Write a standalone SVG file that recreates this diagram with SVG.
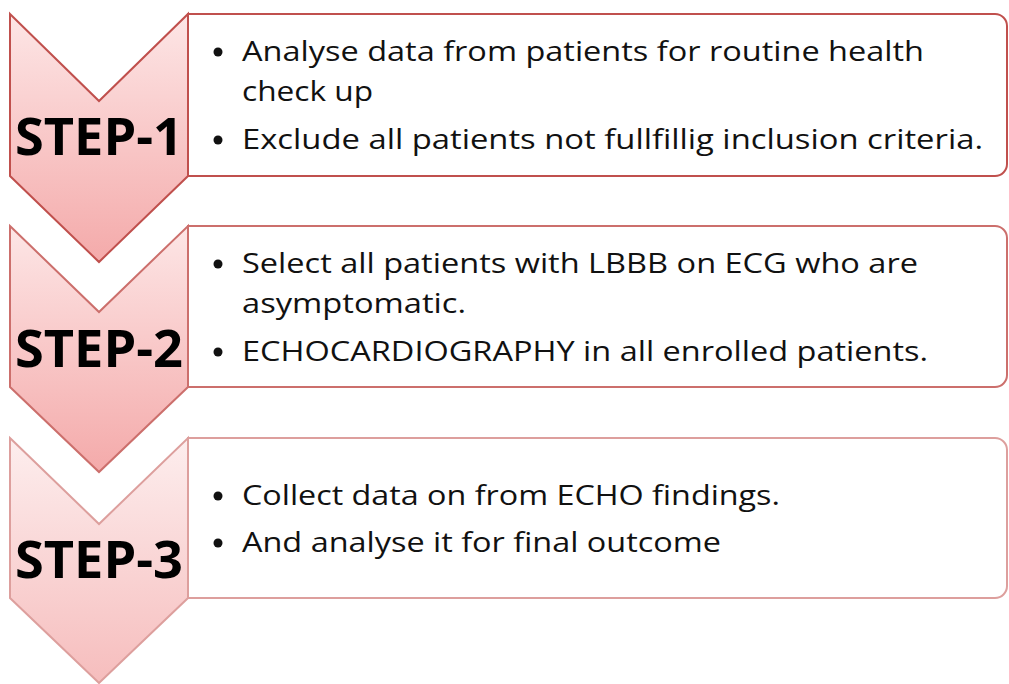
<svg xmlns="http://www.w3.org/2000/svg" width="1009" height="684" viewBox="0 0 1009 684">
  <defs>
    <linearGradient id="chevFill" x1="0" y1="0" x2="0" y2="1">
      <stop offset="0" stop-color="#fde6e6"/>
      <stop offset="1" stop-color="#f4aaaa"/>
    </linearGradient>
    <linearGradient id="chevFillLight" x1="0" y1="0" x2="0" y2="1">
      <stop offset="0" stop-color="#fdeeee"/>
      <stop offset="1" stop-color="#f6bdbd"/>
    </linearGradient>
    <style>
      .box { fill: #ffffff; stroke-width: 2; }
      .chev { stroke-width: 2; stroke-linejoin: miter; }
      .s1 { stroke: #c0504d; }
      .s2 { stroke: #cc6f6c; }
      .s3 { stroke: #dd9f9d; }
      .step { font-family: "Open Sans", "Noto Sans", sans-serif; font-weight: bold; font-size: 52px; fill: #000000; text-anchor: middle; }
      .body { font-family: "Open Sans", "Noto Sans", sans-serif; font-size: 27px; fill: #111111; }
      .dot { fill: #111111; }
    </style>
  </defs>

  <!-- Step 1 -->
  <g id="step1">
    <path class="box s1" d="M188,14 H995 A12,12 0 0 1 1007,26 V164 A12,12 0 0 1 995,176 H188 Z"/>
    <path class="chev s1" fill="url(#chevFill)" d="M10,14 L99,101 L188,14 V176 L99,262 L10,176 Z"/>
    <text class="step" x="99" y="155" textLength="168" lengthAdjust="spacingAndGlyphs">STEP-1</text>
    <circle class="dot" cx="218" cy="52" r="4.5"/>
    <text class="body" x="242" y="61" textLength="682" lengthAdjust="spacingAndGlyphs">Analyse data from patients for routine health</text>
    <text class="body" x="242" y="101" textLength="131" lengthAdjust="spacingAndGlyphs">check up</text>
    <circle class="dot" cx="218" cy="140" r="4.5"/>
    <text class="body" x="242" y="149" textLength="741" lengthAdjust="spacingAndGlyphs">Exclude all patients not fullfillig inclusion criteria.</text>
  </g>

  <!-- Step 2 -->
  <g id="step2">
    <path class="box s2" d="M188,226 H995 A12,12 0 0 1 1007,238 V375 A12,12 0 0 1 995,387 H188 Z"/>
    <path class="chev s2" fill="url(#chevFill)" d="M10,226 L99,312 L188,226 V387 L99,472 L10,387 Z"/>
    <text class="step" x="99" y="367" textLength="168" lengthAdjust="spacingAndGlyphs">STEP-2</text>
    <circle class="dot" cx="218" cy="264" r="4.5"/>
    <text class="body" x="242" y="273" textLength="676" lengthAdjust="spacingAndGlyphs">Select all patients with LBBB on ECG who are</text>
    <text class="body" x="242" y="313" textLength="224" lengthAdjust="spacingAndGlyphs">asymptomatic.</text>
    <circle class="dot" cx="218" cy="352" r="4.5"/>
    <text class="body" x="242" y="361" textLength="686" lengthAdjust="spacingAndGlyphs">ECHOCARDIOGRAPHY in all enrolled patients.</text>
  </g>

  <!-- Step 3 -->
  <g id="step3">
    <path class="box s3" d="M188,438 H995 A12,12 0 0 1 1007,450 V586 A12,12 0 0 1 995,598 H188 Z"/>
    <path class="chev s3" fill="url(#chevFillLight)" d="M10,438 L99,524 L188,438 V598 L99,683 L10,598 Z"/>
    <text class="step" x="99" y="578" textLength="168" lengthAdjust="spacingAndGlyphs">STEP-3</text>
    <circle class="dot" cx="218" cy="496" r="4.5"/>
    <text class="body" x="242" y="505" textLength="538" lengthAdjust="spacingAndGlyphs">Collect data on from ECHO findings.</text>
    <circle class="dot" cx="218" cy="543" r="4.5"/>
    <text class="body" x="242" y="552" textLength="479" lengthAdjust="spacingAndGlyphs">And analyse it for final outcome</text>
  </g>

  <!-- Connectors: none; the steps are linked by the chevrons themselves -->
  <g id="connectors"/>
</svg>
